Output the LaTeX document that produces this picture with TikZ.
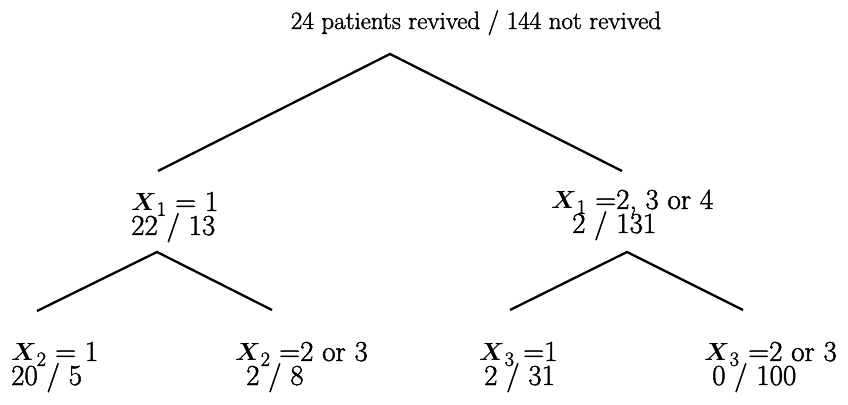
\documentclass[tikz,border=0pt]{standalone}
\usepackage{amsmath, amssymb}
\usepackage{fontspec}
\setmainfont{Latin Modern Roman}[FakeBold=1.6]
\usetikzlibrary{positioning}

\newcommand{\Xvar}[1]{$\boldsymbol{X}_{\text{#1}}$}
\newcommand{\tightlines}{\lineskiplimit-100pt\relax}

\begin{document}
\begin{tikzpicture}
    [x=1pt, y=1pt,
    branch/.style={line width=2.3pt},
    split/.style={anchor=base west, inner sep=0pt, align=left,
        font=\fontsize{29}{24}\selectfont\tightlines}]
    \useasboundingbox (0,0) rectangle (848,404);
        % Root
        \node[split, anchor=base, font=\fontsize{25}{24}\selectfont] (root) at (476,375) {24 patients revived / 144 not revived};
        \coordinate (R) at (390,350);
        \coordinate (RL) at (158,233);
        \coordinate (RR) at (622,233);
        \draw[branch] (RL) -- (R) -- (RR);

        % Left split on X1
        \node[split] (A) at (131,169) {\Xvar{1} = 1\\22 / 13};
        \coordinate (AT) at (157,152);
        \coordinate (AL) at (37,93);
        \coordinate (AR) at (272,94);
        \draw[branch] (AL) -- (AT) -- (AR);

        % Right split on X1
        \node[split] (B) at (551,171) {\Xvar{1} =2, 3 or 4\\\hspace{21pt}2 / 131};
        \coordinate (BT) at (627,152);
        \coordinate (BL) at (510,94);
        \coordinate (BR) at (743,94);
        \draw[branch] (BL) -- (BT) -- (BR);

        % Leaves
        \node[split] (A1) at (11,19) {\Xvar{2} = 1\\20 / 5};
        \node[split] (A2) at (235,19) {\Xvar{2} =2 or 3\\\hspace{11pt}2 / 8};
        \node[split] (B1) at (479,19) {\Xvar{3} =1\\\hspace{5pt}2 / 31};
        \node[split] (B2) at (704,19) {\Xvar{3} =2 or 3\\\hspace{8pt}0 / 100};
    \end{tikzpicture}
\end{document}
